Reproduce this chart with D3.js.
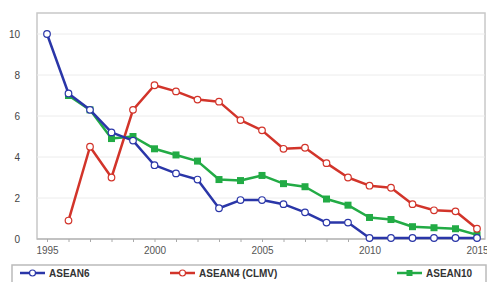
<!doctype html>
<html>
  <head>
    <script src="https://cdn.jsdelivr.net/npm/d3@7/dist/d3.min.js"></script>
    <style>
      body { margin: 0; background: #fff; }
      text { font-family: "Liberation Sans", Arial, sans-serif; }
    </style>
  </head>
  <body>
    <div id="chart"></div>
    <script>
      // data
      var years = d3.range(1995, 2016);
      var asean6 = [10, 7.1, 6.3, 5.2, 4.8, 3.6, 3.2, 2.9, 1.5, 1.9, 1.9, 1.7, 1.3, 0.8, 0.8, 0.05, 0.05, 0.05, 0.05, 0.05, 0.05];
      var asean4 = [null, 0.9, 4.5, 3.0, 6.3, 7.5, 7.2, 6.8, 6.7, 5.8, 5.3, 4.4, 4.45, 3.7, 3.0, 2.6, 2.5, 1.7, 1.4, 1.35, 0.5];
      var asean10 = [null, 7.0, 6.3, 4.9, 5.0, 4.4, 4.1, 3.8, 2.9, 2.85, 3.1, 2.7, 2.55, 1.95, 1.65, 1.05, 0.95, 0.6, 0.55, 0.5, 0.2];
      var yTicks = [0, 2, 4, 6, 8, 10];
      var xTicks = [1995, 2000, 2005, 2010, 2015];
      var seriesNames = ["ASEAN6", "ASEAN4 (CLMV)", "ASEAN10"];

      var W = 487, H = 282;
      var plot = {left: 37, right: 485, top: 13, bottom: 239};

      var svg = d3.select("#chart").append("svg")
        .attr("width", W).attr("height", H);

      var x = d3.scaleLinear().domain([1995, 2015]).range([47, 477]);
      var y = d3.scaleLinear().domain([0, 10]).range([239, 34]);

      // plot frame
      svg.append("rect")
        .attr("x", plot.left).attr("y", plot.top)
        .attr("width", plot.right - plot.left).attr("height", plot.bottom - plot.top)
        .attr("fill", "none").attr("stroke", "#c8c8c8").attr("stroke-width", 1.5);

      // grid lines
      svg.append("g").selectAll("line")
        .data(yTicks.filter(function(d) { return d > 0; }))
        .enter().append("line")
          .attr("x1", plot.left).attr("x2", plot.right)
          .attr("y1", function(d) { return y(d); }).attr("y2", function(d) { return y(d); })
          .attr("stroke", "#ececec").attr("stroke-width", 1);

      // y axis labels
      svg.append("g").selectAll("text")
        .data(yTicks)
        .enter().append("text")
          .attr("x", 20).attr("y", function(d) { return y(d) + 3.5; })
          .attr("text-anchor", "end")
          .style("font-size", "10px").attr("fill", "#444")
          .text(function(d) { return d; });

      // x axis
      var xAxis = svg.append("g")
        .attr("transform", "translate(0," + plot.bottom + ")")
        .call(d3.axisBottom(x).tickValues(years).tickSize(3).tickFormat(function(d) {
          return xTicks.indexOf(d) >= 0 ? d : "";
        }));
      xAxis.select(".domain").attr("stroke", "#bbb").attr("stroke-width", 1.5)
        .attr("d", "M" + plot.left + ",0H" + plot.right);
      xAxis.selectAll(".tick line").attr("stroke", "#aaa");
      xAxis.selectAll(".tick text")
        .attr("dy", 0).attr("y", 15)
        .style("font-size", "10px").style("font-family", "Liberation Sans, Arial, sans-serif")
        .attr("fill", "#555");

      function pts(vals) {
        return years.map(function(yr, i) { return {year: yr, v: vals[i]}; })
          .filter(function(d) { return d.v !== null; });
      }

      var line = d3.line()
        .x(function(d) { return x(d.year); })
        .y(function(d) { return y(d.v); });

      var series = [
        {name: seriesNames[0], data: pts(asean6), color: "#2a36a8", marker: "circle"},
        {name: seriesNames[1], data: pts(asean4), color: "#d2342a", marker: "circle"},
        {name: seriesNames[2], data: pts(asean10), color: "#22ab45", marker: "square"}
      ];

      // draw green first, then red, then blue on top
      [series[2], series[1], series[0]].forEach(function(s) {
        var g = svg.append("g");
        g.append("path")
          .datum(s.data)
          .attr("d", line)
          .attr("fill", "none")
          .attr("stroke", s.color)
          .attr("stroke-width", 2.5)
          .attr("stroke-linejoin", "round");
        if (s.marker === "circle") {
          g.selectAll("circle").data(s.data).enter().append("circle")
            .attr("cx", function(d) { return x(d.year); })
            .attr("cy", function(d) { return y(d.v); })
            .attr("r", 3.3)
            .attr("fill", "#fff")
            .attr("stroke", s.color).attr("stroke-width", 1.2);
        } else {
          g.selectAll("rect").data(s.data).enter().append("rect")
            .attr("x", function(d) { return x(d.year) - 3.5; })
            .attr("y", function(d) { return y(d.v) - 3.5; })
            .attr("width", 7).attr("height", 7)
            .attr("fill", s.color);
        }
      });

      // legend
      var legend = svg.append("g");
      legend.append("rect")
        .attr("x", 12).attr("y", 265).attr("width", 474).attr("height", 30)
        .attr("fill", "#fff").attr("stroke", "#bbb").attr("stroke-width", 1.5);

      var legendPos = [20, 170, 397];
      series.forEach(function(s, i) {
        var lx = legendPos[i], ly = 273;
        legend.append("line")
          .attr("x1", lx).attr("x2", lx + 25)
          .attr("y1", ly).attr("y2", ly)
          .attr("stroke", s.color).attr("stroke-width", 2.5);
        if (s.marker === "circle") {
          legend.append("circle")
            .attr("cx", lx + 12.5).attr("cy", ly).attr("r", 3)
            .attr("fill", "#fff").attr("stroke", s.color).attr("stroke-width", 1.2);
        } else {
          legend.append("rect")
            .attr("x", lx + 9.5).attr("y", ly - 3).attr("width", 6).attr("height", 6)
            .attr("fill", s.color);
        }
        legend.append("text")
          .attr("x", lx + 29).attr("y", ly + 3.5)
          .style("font-size", "10px").style("font-weight", "bold")
          .attr("fill", "#333")
          .text(s.name);
      });
    </script>
  </body>
</html>
